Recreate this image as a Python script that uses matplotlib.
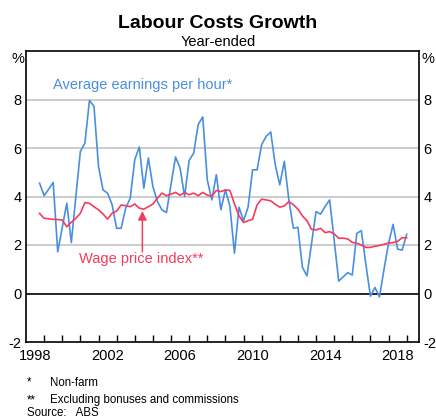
import numpy as np
import pandas as pd
import matplotlib
matplotlib.use("Agg")
import matplotlib.pyplot as plt

plt.rcParams['font.family'] = ['Liberation Sans', 'DejaVu Sans']

# quarterly, Sep-1998 to Dec-2018, year-ended % change
quarters = pd.period_range('1998Q3', '2018Q4', freq='Q')
earnings = [4.55, 4.03, 4.30, 4.58, 1.72, 2.72, 3.72, 2.10, 4.00, 5.86,
            6.20, 7.96, 7.72, 5.24, 4.27, 4.14, 3.66, 2.69, 2.69, 3.52,
            3.93, 5.52, 6.04, 4.34, 5.59, 4.41, 3.79, 3.45, 3.34, 4.50,
            5.63, 5.17, 4.00, 5.49, 5.79, 6.97, 7.28, 4.69, 3.86, 4.90,
            3.45, 4.28, 3.59, 1.66, 3.56, 3.00, 3.56, 5.10, 5.10, 6.14,
            6.48, 6.66, 5.31, 4.48, 5.45, 3.86, 2.69, 2.73, 1.08, 0.73,
            2.05, 3.38, 3.27, 3.59, 3.86, 2.20, 0.51, 0.69, 0.86, 0.76,
            2.48, 2.59, 1.20, -0.11, 0.25, -0.14, 1.00, 2.07, 2.85, 1.83,
            1.79, 2.44]
wpi = [3.30, 3.10, 3.08, 3.06, 3.05, 3.03, 2.75, 2.94, 3.10, 3.31,
       3.75, 3.72, 3.58, 3.45, 3.28, 3.07, 3.31, 3.40, 3.65, 3.62,
       3.58, 3.69, 3.52, 3.48, 3.58, 3.69, 3.93, 4.14, 4.03, 4.10,
       4.17, 4.05, 4.17, 4.07, 4.14, 4.03, 4.17, 4.05, 4.02, 4.25,
       4.20, 4.27, 4.25, 3.70, 3.20, 2.93, 3.00, 3.06, 3.66, 3.89,
       3.86, 3.82, 3.68, 3.56, 3.61, 3.79, 3.66, 3.48, 3.20, 3.00,
       2.65, 2.62, 2.69, 2.51, 2.55, 2.46, 2.28, 2.28, 2.25, 2.11,
       2.07, 2.00, 1.90, 1.90, 1.95, 1.98, 2.03, 2.08, 2.10, 2.15,
       2.30, 2.30]
year_labels = [1998, 2002, 2006, 2010, 2014, 2018]
y_ticks = [-2, 0, 2, 4, 6, 8]

x = np.array([q.year + q.quarter * 0.25 for q in quarters])

blue = '#4a8fdf'
red = '#f43c5c'

fig = plt.figure(figsize=(4.36, 4.20), dpi=100)
ax = fig.add_axes([26 / 436, 1 - 342 / 420, 393 / 436, 291 / 420])

for yv in [2, 4, 6, 8]:
    ax.axhline(yv, color='#c4c4c4', lw=1.2, zorder=1)
ax.axhline(0, color='black', lw=1.2, zorder=1)

ax.plot(x, earnings, color=blue, lw=1.2, zorder=3)
ax.plot(x, wpi, color=red, lw=1.2, zorder=4)

ax.set_xlim(1998, 2019.68)
ax.set_ylim(-2, 10)

ax.set_xticks(np.arange(1999, 2020))
ax.set_xticklabels([])
ax.set_xticks([y + 0.5 for y in year_labels], minor=True)
ax.set_xticklabels([str(y) for y in year_labels], minor=True)
ax.tick_params(axis='x', which='major', direction='in', length=5, width=1)
ax.tick_params(axis='x', which='minor', length=0, labelsize=10.5, pad=5)

ax.set_yticks(y_ticks)
ax.set_yticklabels([str(v) for v in y_ticks])
ax.tick_params(axis='y', length=0, labelsize=10.5, pad=3,
               labelleft=True, labelright=True)

for s in ax.spines.values():
    s.set_linewidth(1.2)

ax.text(1999.47, 8.59, 'Average earnings per hour*', color=blue,
        fontsize=10.5, ha='left', va='center')
ax.text(2004.37, 1.42, 'Wage price index**', color=red,
        fontsize=10.5, ha='center', va='center')
ax.annotate('', xy=(2004.42, 3.4), xytext=(2004.42, 1.72),
            arrowprops=dict(arrowstyle='-|>', color=red, lw=1.1,
                            mutation_scale=13, shrinkA=0, shrinkB=0))

fig.text(17.5 / 436, 1 - 59 / 420, '%', fontsize=10.5, ha='center', va='center')
fig.text(428 / 436, 1 - 59 / 420, '%', fontsize=10.5, ha='center', va='center')

fig.text(218 / 436, 1 - 28 / 420, 'Labour Costs Growth', fontsize=14,
         fontweight='bold', ha='center', va='baseline')
fig.text(218 / 436, 1 - 45.5 / 420, 'Year-ended', fontsize=10.5,
         ha='center', va='baseline')

fig.text(27 / 436, 1 - 385.5 / 420, '*', fontsize=8.3, va='baseline')
fig.text(50 / 436, 1 - 385.5 / 420, 'Non-farm', fontsize=8.3, va='baseline')
fig.text(27 / 436, 1 - 403 / 420, '**', fontsize=8.3, va='baseline')
fig.text(50 / 436, 1 - 403 / 420, 'Excluding bonuses and commissions',
         fontsize=8.3, va='baseline')
fig.text(27 / 436, 1 - 415.5 / 420, 'Source:   ABS', fontsize=8.3, va='baseline')

fig.savefig('out.png', dpi=100)
